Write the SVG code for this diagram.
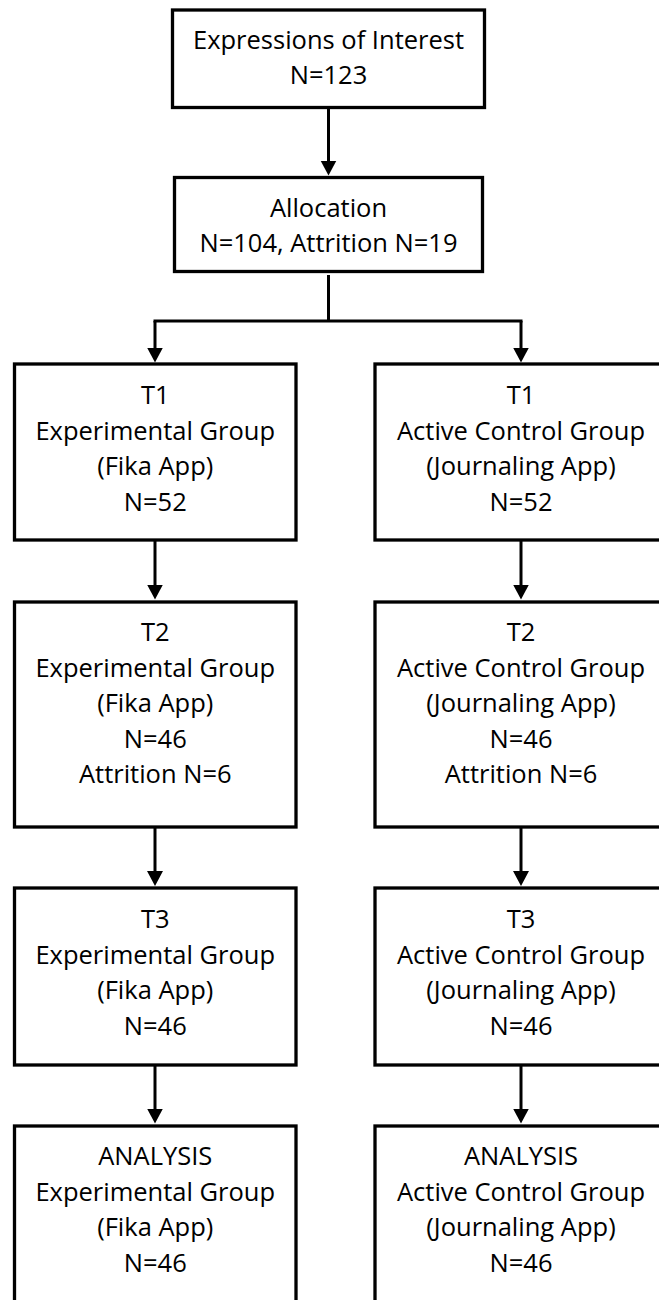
<svg xmlns="http://www.w3.org/2000/svg" width="659" height="1300" viewBox="0 0 659 1300">
  <style>
    .box { fill: #ffffff; stroke: #000000; stroke-width: 3.3; }
    .lbl { font-family: "Open Sans", "Noto Sans", "Liberation Sans", sans-serif; font-size: 25.5px; fill: #000000; text-anchor: middle; }
    .conn { fill: none; stroke: #000000; stroke-width: 3; }
    .arr { marker-end: url(#head); }
  </style>
  <defs>
    <marker id="head" markerUnits="userSpaceOnUse" markerWidth="16" markerHeight="17" refX="1" refY="8.5" orient="auto" viewBox="0 0 16 17">
      <path d="M0,0.5 L15,8.5 L0,16.5 z" fill="#000000"/>
    </marker>
  </defs>
  <rect width="659" height="1300" fill="#ffffff"/>

  <g id="connectors">
    <path class="conn arr" d="M328.5,109 V161.5"/>
    <path class="conn" d="M328.5,275 V321"/>
    <path class="conn" d="M155,321 H521" stroke-linecap="square"/>
    <path class="conn arr" d="M155,321 V348.5"/>
    <path class="conn arr" d="M521,321 V348.5"/>
    <path class="conn arr" d="M155,541 V585.5"/>
    <path class="conn arr" d="M521,541 V585.5"/>
    <path class="conn arr" d="M155,828 V872"/>
    <path class="conn arr" d="M521,828 V872"/>
    <path class="conn arr" d="M155,1066 V1109.5"/>
    <path class="conn arr" d="M521,1066 V1109.5"/>
  </g>

  <g id="n-interest">
    <rect class="box" x="172.5" y="10" width="312" height="97.5"/>
    <text class="lbl" x="328.5" y="49">Expressions of Interest</text>
    <text class="lbl" x="328.5" y="84">N=123</text>
  </g>

  <g id="n-allocation">
    <rect class="box" x="174.5" y="177.5" width="308" height="94"/>
    <text class="lbl" x="328.5" y="216.5">Allocation</text>
    <text class="lbl" x="328.5" y="252">N=104, Attrition N=19</text>
  </g>

  <g id="n-t1-exp">
    <rect class="box" x="14.5" y="364" width="281.5" height="176"/>
    <text class="lbl" x="155.25" y="404">T1</text>
    <text class="lbl" x="155.25" y="439.5">Experimental Group</text>
    <text class="lbl" x="155.25" y="475">(Fika App)</text>
    <text class="lbl" x="155.25" y="510.5">N=52</text>
  </g>

  <g id="n-t1-ctrl">
    <rect class="box" x="375" y="364" width="292" height="176"/>
    <text class="lbl" x="521" y="404">T1</text>
    <text class="lbl" x="521" y="439.5">Active Control Group</text>
    <text class="lbl" x="521" y="475">(Journaling App)</text>
    <text class="lbl" x="521" y="510.5">N=52</text>
  </g>

  <g id="n-t2-exp">
    <rect class="box" x="14.5" y="602" width="281.5" height="225"/>
    <text class="lbl" x="155.25" y="641">T2</text>
    <text class="lbl" x="155.25" y="676.5">Experimental Group</text>
    <text class="lbl" x="155.25" y="712">(Fika App)</text>
    <text class="lbl" x="155.25" y="747.5">N=46</text>
    <text class="lbl" x="155.25" y="783">Attrition N=6</text>
  </g>

  <g id="n-t2-ctrl">
    <rect class="box" x="375" y="602" width="292" height="225"/>
    <text class="lbl" x="521" y="641">T2</text>
    <text class="lbl" x="521" y="676.5">Active Control Group</text>
    <text class="lbl" x="521" y="712">(Journaling App)</text>
    <text class="lbl" x="521" y="747.5">N=46</text>
    <text class="lbl" x="521" y="783">Attrition N=6</text>
  </g>

  <g id="n-t3-exp">
    <rect class="box" x="14.5" y="888" width="281.5" height="177"/>
    <text class="lbl" x="155.25" y="928">T3</text>
    <text class="lbl" x="155.25" y="963.5">Experimental Group</text>
    <text class="lbl" x="155.25" y="999">(Fika App)</text>
    <text class="lbl" x="155.25" y="1034.5">N=46</text>
  </g>

  <g id="n-t3-ctrl">
    <rect class="box" x="375" y="888" width="292" height="177"/>
    <text class="lbl" x="521" y="928">T3</text>
    <text class="lbl" x="521" y="963.5">Active Control Group</text>
    <text class="lbl" x="521" y="999">(Journaling App)</text>
    <text class="lbl" x="521" y="1034.5">N=46</text>
  </g>

  <g id="n-analysis-exp">
    <rect class="box" x="14.5" y="1126" width="281.5" height="200"/>
    <text class="lbl" x="155.25" y="1165">ANALYSIS</text>
    <text class="lbl" x="155.25" y="1200.5">Experimental Group</text>
    <text class="lbl" x="155.25" y="1236">(Fika App)</text>
    <text class="lbl" x="155.25" y="1271.5">N=46</text>
  </g>

  <g id="n-analysis-ctrl">
    <rect class="box" x="375" y="1126" width="292" height="200"/>
    <text class="lbl" x="521" y="1165">ANALYSIS</text>
    <text class="lbl" x="521" y="1200.5">Active Control Group</text>
    <text class="lbl" x="521" y="1236">(Journaling App)</text>
    <text class="lbl" x="521" y="1271.5">N=46</text>
  </g>
</svg>
